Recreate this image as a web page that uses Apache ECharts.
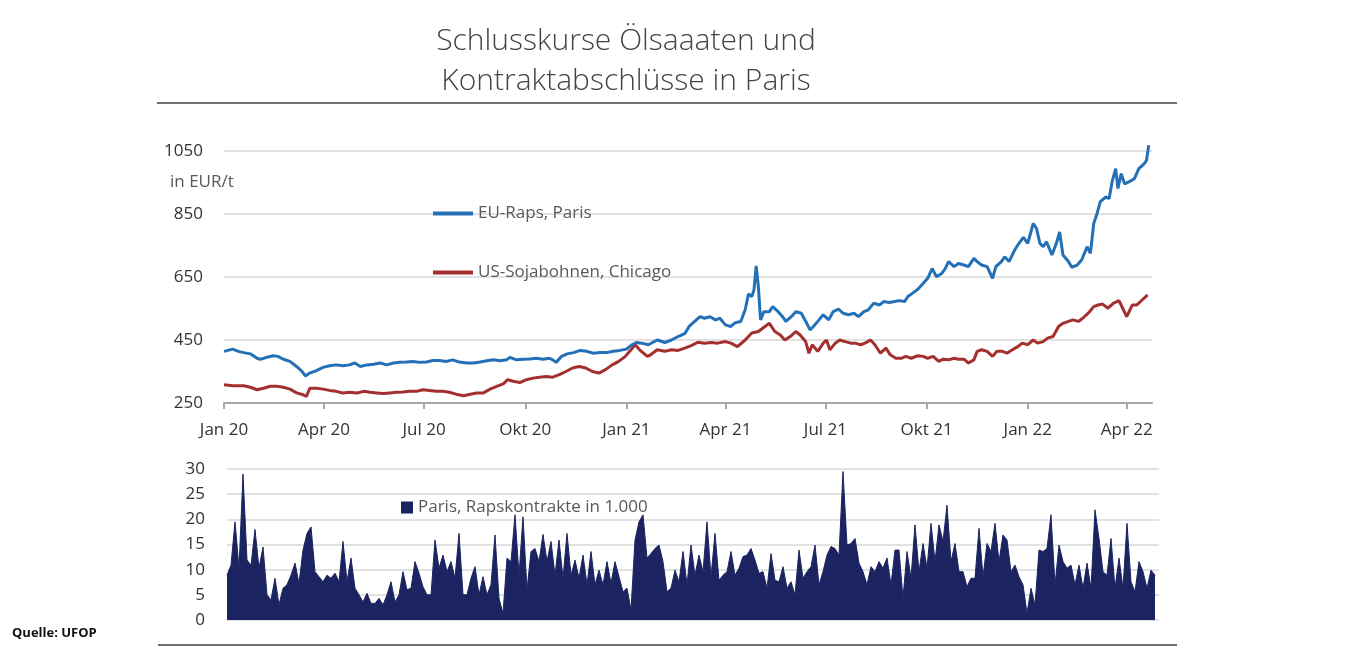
<!DOCTYPE html>
<html>
<head>
<meta charset="utf-8">
<script src="https://cdn.jsdelivr.net/npm/echarts@6/dist/echarts.min.js"></script>
<style>
  html, body { margin: 0; padding: 0; background: #fff; }
  #chart { width: 1350px; height: 650px; }
</style>
</head>
<body>
<div id="chart"></div>
<script>
// Schlusskurse in EUR/t: [Tage seit 1.1.2020, Wert]
var rapsParis = [
  [0,414],[8,421],[13,414],[18,410],[24,406],[30,392],[33,389],[39,395],[45,400],[49,398],
  [54,389],[60,382],[66,366],[71,350],[74,336],[78,345],[84,353],[90,363],[96,368],[102,371],
  [108,368],[114,371],[119,377],[124,366],[130,371],[136,373],[142,377],[148,371],[154,377],[160,379],
  [166,380],[172,382],[178,379],[184,380],[190,385],[196,385],[202,382],[208,387],[214,380],[221,377],
  [227,377],[233,380],[239,384],[245,387],[251,384],[257,387],[260,395],[266,387],[272,389],[278,390],
  [284,392],[290,389],[296,392],[299,387],[302,379],[307,398],[312,406],[318,410],[324,417],[330,414],
  [336,408],[342,410],[348,410],[354,414],[360,417],[366,421],[371,435],[375,442],[380,440],[386,435],
  [394,450],[401,442],[407,450],[413,461],[419,470],[423,493],[428,509],[433,524],[437,519],[442,524],
  [447,514],[451,519],[456,498],[461,493],[465,505],[470,509],[474,546],[477,596],[480,588],[482,609],
  [484,685],[486,619],[488,514],[491,540],[496,540],[499,556],[504,540],[508,524],[511,509],[516,524],
  [520,540],[525,535],[530,503],[533,482],[536,493],[540,509],[545,530],[550,514],[554,540],[559,548],
  [563,535],[568,530],[573,535],[577,524],[582,540],[586,546],[591,567],[596,561],[600,572],[605,569],
  [610,572],[614,575],[619,572],[622,588],[626,598],[631,611],[636,630],[640,646],[644,677],[648,651],
  [653,662],[656,677],[659,699],[664,683],[668,693],[673,688],[677,683],[682,709],[685,699],[689,688],
  [694,683],[699,646],[702,683],[707,699],[710,714],[714,699],[719,735],[723,757],[727,776],[731,757],
  [736,820],[739,804],[742,757],[745,746],[748,762],[753,720],[757,757],[760,793],[763,720],[768,699],
  [771,681],[776,688],[780,704],[785,746],[788,725],[791,820],[794,851],[797,889],[802,904],[805,899],
  [808,957],[811,994],[813,931],[816,978],[819,946],[823,952],[828,962],[832,994],[837,1010],[839,1020],
  [841,1068]
];
var sojaChicago = [
  [0,308],[8,305],[18,305],[24,300],[30,292],[36,297],[42,303],[48,303],[54,300],[60,294],
  [66,282],[72,276],[75,271],[78,297],[84,297],[90,294],[96,290],[102,287],[108,282],[114,284],
  [121,282],[127,287],[133,284],[139,282],[145,280],[151,282],[157,284],[163,285],[169,287],[175,287],
  [181,292],[187,290],[193,287],[199,287],[205,284],[211,278],[218,273],[224,278],[230,282],[236,282],
  [242,294],[248,303],[254,311],[258,324],[263,319],[269,315],[275,324],[281,329],[287,332],[293,334],
  [299,332],[305,340],[311,350],[317,361],[323,366],[329,361],[335,350],[341,345],[347,356],[353,371],
  [359,382],[365,398],[369,414],[374,435],[378,419],[385,398],[388,403],[394,419],[401,414],[407,419],
  [413,417],[419,424],[425,432],[431,443],[437,440],[443,442],[449,440],[456,445],[461,440],[467,429],
  [474,450],[480,472],[486,477],[492,493],[496,503],[501,477],[506,466],[510,450],[515,461],[520,477],
  [524,466],[529,445],[532,408],[535,435],[540,414],[545,440],[548,450],[551,419],[556,440],[560,450],
  [565,445],[570,440],[574,440],[579,435],[583,440],[588,450],[592,435],[597,408],[602,424],[606,403],
  [611,392],[616,392],[620,398],[625,392],[631,400],[636,398],[640,392],[645,398],[650,382],[654,389],
  [659,387],[664,392],[668,389],[673,389],[677,377],[682,387],[685,414],[689,419],[694,414],[699,398],
  [703,414],[708,414],[712,408],[717,419],[722,429],[726,440],[731,435],[736,450],[740,440],[745,445],
  [749,456],[754,461],[759,493],[763,503],[768,509],[772,514],[777,509],[781,519],[786,535],[791,556],
  [795,561],[799,564],[804,551],[809,567],[814,575],[818,546],[821,524],[826,561],[830,561],[835,577],
  [840,593]
];
// Rapskontrakte Paris in 1.000 (fortlaufende Handelsperioden)
var rapsKontrakte = [
  8.9,10.9,19.5,10.3,29,11.9,10.9,18,10.3,14.5,
  5,4,8.3,3,6.3,7,8.9,11.3,7.3,13.9,
  17.2,18.5,9.6,8.6,7.6,8.9,8.3,9.3,7.6,15.6,
  7.6,12.3,6.3,5,3.6,5.3,3.3,3.3,4.3,3,
  5,7.6,3.6,5,9.6,6,6.3,11.6,9.3,6.6,
  5,5,15.9,10.3,12.9,9.6,11.6,8.3,17.2,5,
  5,8.3,10.6,5,8.6,5,7,16.9,4.3,1.3,
  12.3,11.6,20.9,8.9,20.5,6,13.6,14.2,
  11.6,17,11.6,15.6,8.9,15.9,8.3,17.2,8.9,11.9,
  8.3,12.9,7,13.6,7,9.9,7,11.6,7.3,11.6,
  8.6,5.6,6.3,2,15.9,19.5,20.9,12.3,13.2,14.2,
  14.9,11.6,5.6,6.3,9.9,7.6,13.6,7,14.9,8.9,
  12.9,9.6,19.5,8.6,17.2,7.9,8.9,9.6,13.6,8.9,
  10.3,12.6,12.9,14.2,11.9,9.3,9.6,6.3,13.2,7.9,
  7.6,10.6,6.3,7.6,5,13.9,8.3,9.6,10.6,14.9,
  7,9.6,12.9,14.6,14.2,12.9,29.5,
  14.9,15.2,16.2,11.3,9.6,7,10.6,9.6,11.6,10.3,
  12.3,7,13.9,13.9,4.3,13.6,8.3,18.9,9.6,15.2,
  10.3,19.2,11.6,18.9,15.6,22.8,11.6,15.2,9.6,9.6,
  6.6,8.3,8.3,18.2,8.6,15.2,13.6,19.2,11.6,16.9,
  15.9,9.6,10.9,8.6,7,1.3,6.3,3,13.9,13.6,
  14.2,20.9,7,14.9,11.6,10.3,10.9,7,10.9,6.3,
  11.3,6.3,21.9,16.2,9.6,8.9,16.2,6.3,12.3,6.3,
  19.2,7.6,5.6,11.6,9.6,6.3,9.9,8.9
];
// Quartalsanfang in Tagen seit 1.1.2020
var quarterDays = [0, 91, 182, 274, 366, 456, 547, 639, 731, 821];
var quarterLabels = ['Jan 20', 'Apr 20', 'Jul 20', 'Okt 20', 'Jan 21', 'Apr 21', 'Jul 21', 'Okt 21', 'Jan 22', 'Apr 22'];

var FONT = '"Open Sans", "DejaVu Sans", sans-serif';
var BLUE = '#2470b7';
var RED = '#a3302f';
var NAVY = '#1b2461';
var GRID = '#e1e1e1';
var AXIS = '#a8a8a8';

var chart = echarts.init(document.getElementById('chart'));

var legendText = { fontFamily: FONT, fontSize: 17, color: '#595959' };

var option = {
  animation: false,
  backgroundColor: '#fff',
  textStyle: { fontFamily: FONT },
  graphic: [
    { type: 'text', x: 626, y: 21,
      style: { text: 'Schlusskurse Ölsaaaten und\nKontraktabschlüsse in Paris', textAlign: 'center', textVerticalAlign: 'top',
               fontFamily: FONT, fontSize: 30, fontWeight: 300, lineHeight: 40, fill: '#444' } },
    { type: 'line', shape: { x1: 157, y1: 103, x2: 1177, y2: 103 }, style: { stroke: '#707070', lineWidth: 2 } },
    { type: 'line', shape: { x1: 158, y1: 645, x2: 1177, y2: 645 }, style: { stroke: '#707070', lineWidth: 2 } },
    { type: 'text', x: 170, y: 182,
      style: { text: 'in EUR/t', textVerticalAlign: 'middle', fontFamily: FONT, fontSize: 17, fill: '#595959' } },
    { type: 'text', x: 12, y: 633,
      style: { text: 'Quelle: UFOP', textVerticalAlign: 'middle', fontFamily: FONT, fontSize: 13, fontWeight: 'bold', fill: '#111' } }
  ],
  legend: [
    { data: ['EU-Raps, Paris'], left: 433, top: 205, padding: 0, icon: 'rect', itemWidth: 40, itemHeight: 4,
      selectedMode: false, textStyle: legendText },
    { data: ['US-Sojabohnen, Chicago'], left: 433, top: 264, padding: 0, icon: 'rect', itemWidth: 40, itemHeight: 4,
      selectedMode: false, textStyle: legendText },
    { data: ['Paris, Rapskontrakte in 1.000'], left: 401, top: 499, padding: 0, icon: 'rect', itemWidth: 12, itemHeight: 12,
      selectedMode: false, textStyle: legendText }
  ],
  grid: [
    { left: 224, top: 151, width: 928, height: 252 },
    { left: 227, top: 469, width: 932, height: 151 }
  ],
  xAxis: [
    { type: 'value', gridIndex: 0, min: 0, max: 844,
      axisLine: { show: true, lineStyle: { color: AXIS, width: 2 } },
      axisTick: { show: true, customValues: quarterDays, length: 6, lineStyle: { color: AXIS, width: 2 } },
      axisLabel: { customValues: quarterDays, margin: 19, fontSize: 17, color: '#333', fontFamily: FONT,
                   formatter: function (v) { var k = quarterDays.indexOf(v); return k >= 0 ? quarterLabels[k] : ''; } },
      splitLine: { show: false } },
    { type: 'value', gridIndex: 1, min: 0, max: 233, show: false }
  ],
  yAxis: [
    { type: 'value', gridIndex: 0, min: 250, max: 1050, interval: 200,
      axisLine: { show: false }, axisTick: { show: false },
      axisLabel: { margin: 21, fontSize: 17, color: '#333', fontFamily: FONT,
                   formatter: function (v) { return String(v); } },
      splitLine: { lineStyle: { color: GRID, width: 2 } } },
    { type: 'value', gridIndex: 1, min: 0, max: 30, interval: 5,
      axisLine: { show: false }, axisTick: { show: false },
      axisLabel: { margin: 22, fontSize: 17, color: '#333', fontFamily: FONT },
      splitLine: { lineStyle: { color: GRID, width: 2 } } }
  ],
  series: [
    { name: 'US-Sojabohnen, Chicago', type: 'line', xAxisIndex: 0, yAxisIndex: 0, data: sojaChicago,
      showSymbol: false, symbol: 'none', clip: false, color: RED, lineStyle: { color: RED, width: 3 } },
    { name: 'EU-Raps, Paris', type: 'line', xAxisIndex: 0, yAxisIndex: 0, data: rapsParis,
      showSymbol: false, symbol: 'none', clip: false, color: BLUE, lineStyle: { color: BLUE, width: 3 } },
    { name: 'Paris, Rapskontrakte in 1.000', type: 'line', xAxisIndex: 1, yAxisIndex: 1,
      data: rapsKontrakte.map(function (v, i) { return [i, v]; }),
      showSymbol: false, symbol: 'none', color: NAVY,
      lineStyle: { color: NAVY, width: 1 }, areaStyle: { color: NAVY, opacity: 1 } }
  ]
};

chart.setOption(option);
</script>
</body>
</html>
